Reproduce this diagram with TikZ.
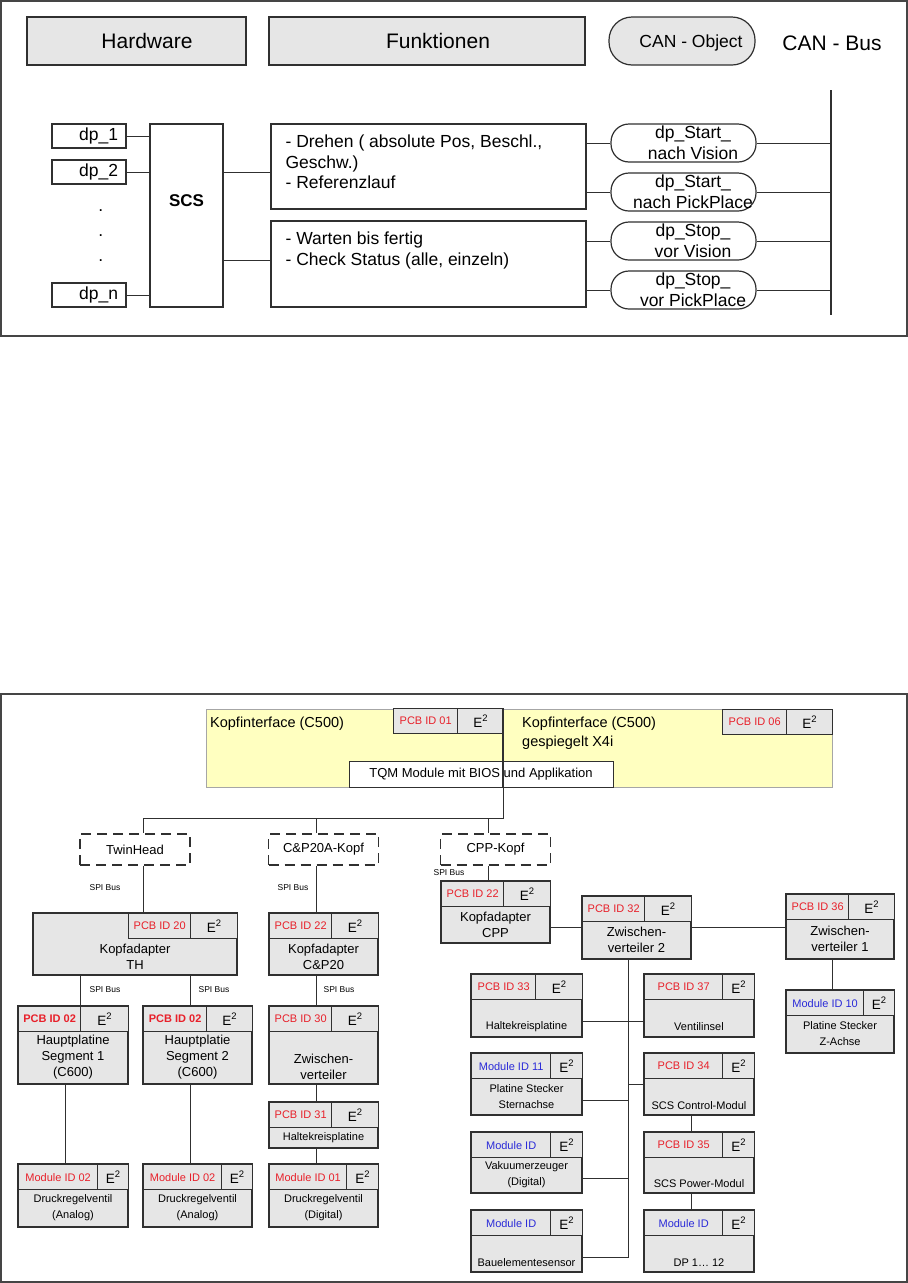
\documentclass[tikz,border=0pt]{standalone}
\usepackage{fontspec}
\setmainfont{Liberation Sans}
\usepackage{tikz}
\usetikzlibrary{calc}
\definecolor{grau}{HTML}{E6E6E6}
\definecolor{gelb}{HTML}{FFFFC0}
\definecolor{idrot}{HTML}{E8202A}
\definecolor{idblau}{HTML}{2A2AD8}
\definecolor{linie}{HTML}{303030}
\newcommand{\schrift}[2]{\fontsize{#1}{#2}\selectfont}
\newcommand{\kleintext}{\fontsize{11}{13}\selectfont}
\newcommand{\modul}[9]{%
  \node[modbox,minimum width={#5-#3},minimum height={#6-#4}] (#1) at ({(#3+#5)/2},{(#4+#6)/2}) {};
  \node[kopfzelle,minimum width={#8-#7}] (#1-id) at (#7,#4) {#9};
  \node[kopfzelle,minimum width={#5-#8},font=\schrift{13.5}{15}] (#1-e2) at (#8,#4) {E\textsuperscript{2}};
  \node[rumpftext] (#1-text) at ({(#3+#5)/2},{(#4+25+#6)/2}) {#2};
}

\begin{document}
\begin{tikzpicture}[x=1pt,y=-1pt,font=\schrift{13}{16}]
  \tikzset{rahmen/.style={draw=linie!90,line width=1.4pt},
    titelbox/.style={draw=linie,fill=grau,line width=1.2pt,minimum width=#1,minimum height=48pt,text depth=0pt,font=\schrift{21}{25}},
    dpbox/.style={draw=linie,line width=1.2pt,minimum height=24pt,text width=58pt,align=right,inner xsep=8pt,inner ysep=0pt,font=\schrift{17.5}{21}},
    kastenbox/.style={draw=linie,line width=1.2pt},
    canobjekt/.style={draw=linie,line width=1.2pt,rounded corners=18pt,minimum width=145pt,minimum height=38pt,inner sep=0pt},
    cantext/.style={align=center,inner sep=0pt,font=\schrift{17.5}{21}},
    verbindung/.style={draw=linie,line width=1pt},
    kopfbox/.style={draw=linie,line width=1.2pt,dash pattern=on 10pt off 6pt,minimum width=110pt,minimum height=31pt,font=\schrift{13}{16}},
    spi/.style={font=\schrift{8.5}{10}},
    modbox/.style={draw=linie,fill=grau,line width=1.3pt},
    kopfzelle/.style={draw=linie,fill=grau,line width=1.3pt,anchor=north west,minimum height=25pt,inner sep=0pt,font=\schrift{11}{13}},
    rumpftext/.style={text width=104pt,align=flush center,inner sep=0pt,font=\schrift{13}{16}}}
  \useasboundingbox (0,0) rectangle (908,1283);

  \draw[rahmen] (1,1) rectangle (907,336);
  \node[titelbox=219pt] (hw) at (136.5,41) {\hspace*{21pt}Hardware};
  \node[titelbox=316pt] (fkt) at (427,41) {\hspace*{22pt}Funktionen};
  \node[canobjekt,fill=grau,rounded corners=23pt,minimum width=146pt,minimum height=48pt,text depth=0pt,font=\schrift{17.5}{21}] (canobj) at (682,41) {\hspace*{18pt}CAN - Object};
  \node[font=\schrift{21}{25}] (canbus) at (832,43) {CAN - Bus};

  \node[dpbox] (dp1) at (89,136) {dp\_1};
  \node[dpbox] (dp2) at (89,172) {dp\_2};
  \node[dpbox] (dpn) at (89,295) {dp\_n};
  \node[anchor=base,font=\schrift{17.5}{21}] (punkt1) at (100.7,211.5) {.};
  \node[anchor=base,font=\schrift{17.5}{21}] (punkt2) at (100.7,236.5) {.};
  \node[anchor=base,font=\schrift{17.5}{21}] (punkt3) at (100.7,261.5) {.};
  \node[kastenbox,minimum width=73pt,minimum height=183pt,align=center,font=\bfseries\schrift{17}{21}] (scs) at (186.5,215.5) {SCS\\[8pt]\mbox{}};
  \node[kastenbox,minimum width=315pt,minimum height=85pt] (fkt1) at (428.5,166.5) {};
  \node[anchor=north west,align=left,inner sep=0pt,font=\schrift{17.5}{20.5}] (fkt1-text) at ([xshift=15pt,yshift=-11.5pt]fkt1.north west) {- Drehen ( absolute Pos, Beschl.,\\Geschw.)\\- Referenzlauf};
  \node[kastenbox,minimum width=315pt,minimum height=86pt] (fkt2) at (428.5,264) {};
  \node[anchor=north west,align=left,inner sep=0pt,font=\schrift{17.5}{20.5}] (fkt2-text) at ([xshift=15pt,yshift=-11.5pt]fkt2.north west) {- Warten bis fertig\\- Check Status (alle, einzeln)};
  \node[canobjekt] (can1) at (683.5,143) {};
  \node[cantext] (can1-text) at ([xshift=9.5pt]can1.center) {dp\_Start\_\\nach Vision};
  \node[canobjekt] (can2) at (683.5,192) {};
  \node[cantext] (can2-text) at ([xshift=9.5pt]can2.center) {dp\_Start\_\\nach PickPlace};
  \node[canobjekt] (can3) at (683.5,241) {};
  \node[cantext] (can3-text) at ([xshift=9.5pt]can3.center) {dp\_Stop\_\\vor Vision};
  \node[canobjekt] (can4) at (683.5,290) {};
  \node[cantext] (can4-text) at ([xshift=9.5pt]can4.center) {dp\_Stop\_\\vor PickPlace};
  \coordinate (bus-oben) at (831,90);
  \coordinate (bus-unten) at (831,315);
  \draw[linie,line width=2.4pt] (bus-oben) -- (bus-unten);

  \draw[verbindung] (dp1.east) -- (dp1.east -| scs.west);
  \draw[verbindung] (dp2.east) -- (dp2.east -| scs.west);
  \draw[verbindung] (dpn.east) -- (dpn.east -| scs.west);
  \draw[verbindung] ([yshift=-49pt]scs.north east) -- ([yshift=-49pt]scs.north east -| fkt1.west);
  \draw[verbindung] ([yshift=47pt]scs.south east) -- ([yshift=47pt]scs.south east -| fkt2.west);
  \draw[verbindung] (can1.west -| fkt1.east) -- (can1.west);
  \draw[verbindung] (can2.west -| fkt1.east) -- (can2.west);
  \draw[verbindung] (can3.west -| fkt2.east) -- (can3.west);
  \draw[verbindung] (can4.west -| fkt2.east) -- (can4.west);
  \draw[verbindung] (can1.east) -- (can1.east -| bus-oben);
  \draw[verbindung] (can2.east) -- (can2.east -| bus-oben);
  \draw[verbindung] (can3.east) -- (can3.east -| bus-oben);
  \draw[verbindung] (can4.east) -- (can4.east -| bus-oben);

  \draw[rahmen] (1,694) rectangle (907,1282);
  \node[draw=black!35,fill=gelb,minimum width=626pt,minimum height=78pt] (kif) at (519,748) {};
  \node[anchor=base west,inner sep=0pt,font=\schrift{14.5}{19}] (kif-links) at (210,727) {Kopfinterface (C500)};
  \node[anchor=north west,align=left,inner sep=0pt,font=\schrift{14.5}{19}] (kif-rechts) at (522,716.5) {Kopfinterface (C500)\\gespiegelt X4i};
  \node[kopfzelle,minimum width=64pt] (kif-id1) at (393,708) {\color{idrot}PCB ID 01};
  \node[kopfzelle,minimum width=46pt,font=\schrift{13.5}{15}] (kif-e1) at (457,708) {E\textsuperscript{2}};
  \node[kopfzelle,minimum width=64pt] (kif-id2) at (722,709) {\color{idrot}PCB ID 06};
  \node[kopfzelle,minimum width=46pt,font=\schrift{13.5}{15}] (kif-e2) at (786,709) {E\textsuperscript{2}};
  \node[draw=linie,fill=white,line width=1pt,minimum width=264pt,minimum height=26pt] (tqm) at (481,774) {TQM Module mit BIOS und Applikation};
  \coordinate (mitte) at (503,709);
  \coordinate (verteil) at (503,818);

  \node[kopfbox] (twin) at (135,849.5) {TwinHead};
  \node[kopfbox] (cpkopf) at (323.5,849.5) {C\&P20A-Kopf};
  \node[kopfbox] (cppkopf) at (495.5,849.5) {CPP-Kopf};
  \node[spi] (spi-th) at (105,888) {SPI Bus};
  \node[spi] (spi-cp) at (293,888) {SPI Bus};
  \node[spi] (spi-cpp) at (449,873) {SPI Bus};
  \node[spi] (spi-seg1) at (105,990) {SPI Bus};
  \node[spi] (spi-seg2) at (214,990) {SPI Bus};
  \node[spi] (spi-zv) at (339,990) {SPI Bus};

  \modul{th}{Kopfadapter\\TH}{33}{913}{237}{975}{128}{190}{\color{idrot}PCB ID 20}
  \modul{cp20}{Kopfadapter\\C\&P20}{269}{913}{378}{975}{269}{331}{\color{idrot}PCB ID 22}
  \modul{cpp}{Kopfadapter\\CPP}{441}{881}{550}{943}{441}{503}{\color{idrot}PCB ID 22}
  \modul{zv2}{Zwischen-\\verteiler 2}{582}{896}{691}{959}{582}{644}{\color{idrot}PCB ID 32}
  \modul{zv1}{Zwischen-\\verteiler 1}{786}{894}{894}{959}{786}{848}{\color{idrot}PCB ID 36}
  \modul{zachse}{\kleintext Platine Stecker\\Z-Achse}{786}{990}{894}{1053}{786}{863}{\color{idblau}Module ID 10}
  \modul{seg1}{Hauptplatine\\Segment 1\\(C600)}{18}{1006}{128}{1084}{18}{80}{\color{idrot}\bfseries PCB ID 02}
  \modul{seg2}{Hauptplatie\\Segment 2\\(C600)}{143}{1006}{252}{1084}{143}{206}{\color{idrot}\bfseries PCB ID 02}
  \modul{zv}{\strut\\Zwischen-\\verteiler}{269}{1006}{378}{1084}{269}{331}{\color{idrot}PCB ID 30}
  \modul{hk31}{\kleintext Haltekreisplatine}{269}{1102}{378}{1148}{269}{331}{\color{idrot}PCB ID 31}
  \modul{drv1}{\kleintext Druckregelventil\\(Analog)}{18}{1164}{128}{1227}{18}{97}{\color{idrot}Module ID 02}
  \modul{drv2}{\kleintext Druckregelventil\\(Analog)}{143}{1164}{252}{1227}{143}{221}{\color{idrot}Module ID 02}
  \modul{drv3}{\kleintext Druckregelventil\\(Digital)}{269}{1164}{378}{1227}{269}{346}{\color{idrot}Module ID 01}
  \modul{hk33}{\kleintext\strut\\Haltekreisplatine}{471}{974}{582}{1037}{471}{535}{\color{idrot}PCB ID 33}
  \modul{vi37}{\kleintext\strut\\Ventilinsel}{644}{974}{754}{1037}{644}{722}{\color{idrot}PCB ID 37}
  \modul{pss}{\kleintext Platine Stecker\\Sternachse}{471}{1053}{582}{1115}{471}{550}{\color{idblau}Module ID 11}
  \modul{scsc}{\kleintext\strut\\SCS Control-Modul}{644}{1053}{754}{1115}{644}{722}{\color{idrot}PCB ID 34}
  \modul{vak}{\kleintext Vakuumerzeuger\\(Digital)}{471}{1132}{582}{1193}{471}{550}{\color{idblau}Module ID}
  \modul{scsp}{\kleintext\strut\\SCS Power-Modul}{644}{1132}{754}{1193}{644}{722}{\color{idrot}PCB ID 35}
  \modul{bes}{\kleintext\strut\\Bauelementesensor}{471}{1210}{582}{1272}{471}{550}{\color{idblau}Module ID}
  \modul{dpm}{\kleintext\strut\\DP 1… 12}{644}{1210}{754}{1272}{644}{722}{\color{idblau}Module ID}

  \draw[linie,line width=2pt] (mitte) -- (mitte |- tqm.south);
  \draw[verbindung] (mitte |- tqm.south) -- (verteil) -- ([xshift=8pt]twin.north |- verteil) -- ([xshift=8pt]twin.north);
  \draw[verbindung] ([xshift=-7.5pt]cpkopf.north |- verteil) -- ([xshift=-7.5pt]cpkopf.north);
  \draw[verbindung] ([xshift=-7.5pt]cppkopf.north |- verteil) -- ([xshift=-7.5pt]cppkopf.north);
  \draw[verbindung] ([xshift=8pt]twin.south) -- ([xshift=8pt]twin.south |- th.north);
  \draw[verbindung] ([xshift=-7.5pt]cpkopf.south) -- ([xshift=-7.5pt]cpkopf.south |- cp20.north);
  \draw[verbindung] ([xshift=-7.5pt]cppkopf.south) -- ([xshift=-7.5pt]cppkopf.south |- cpp.north);
  \draw[verbindung] ([xshift=7pt]seg1.north |- th.south) -- ([xshift=7pt]seg1.north);
  \draw[verbindung] ([xshift=-7.5pt]seg2.north |- th.south) -- ([xshift=-7.5pt]seg2.north);
  \draw[verbindung] ([xshift=-7.5pt]zv.north |- cp20.south) -- ([xshift=-7.5pt]zv.north);
  \draw[verbindung] ([xshift=-7.5pt]zv.south) -- ([xshift=-7.5pt]hk31.north);
  \draw[verbindung] ([xshift=-7.5pt]hk31.south) -- ([xshift=-7.5pt]drv3.north);
  \draw[verbindung] ([xshift=-8pt]seg1.south) -- ([xshift=-8pt]drv1.north);
  \draw[verbindung] ([xshift=-7.5pt]seg2.south) -- ([xshift=-7.5pt]drv2.north);
  \draw[verbindung] (zv2.west -| cpp.east) -- (zv2.west);
  \draw[verbindung] (zv2.east) -- (zv2.east -| zv1.west);
  \draw[verbindung] ([xshift=-8pt]zv1.south) -- ([xshift=-8pt]zv1.south |- zachse.north);
  \coordinate (stamm) at ([xshift=-8.5pt]zv2.south);
  \draw[verbindung] (stamm) |- ([yshift=-16pt]bes.east);
  \draw[verbindung] ([yshift=-16pt]hk33.east) -- ([yshift=-16pt]hk33.east -| vi37.west);
  \draw[verbindung] ([yshift=-16pt]pss.east) -- ([yshift=-16pt]pss.east -| stamm);
  \draw[verbindung] ([yshift=-16pt]vak.east) -- ([yshift=-16pt]vak.east -| stamm);
  \draw[verbindung] (scsc.west -| stamm) -- (scsc.west);
  \draw[verbindung] ([xshift=-8pt]scsc.south) -- ([xshift=-8pt]scsp.north);
  \draw[verbindung] ([xshift=-8pt]scsp.south) -- ([xshift=-8pt]dpm.north);
\end{tikzpicture}
\end{document}
